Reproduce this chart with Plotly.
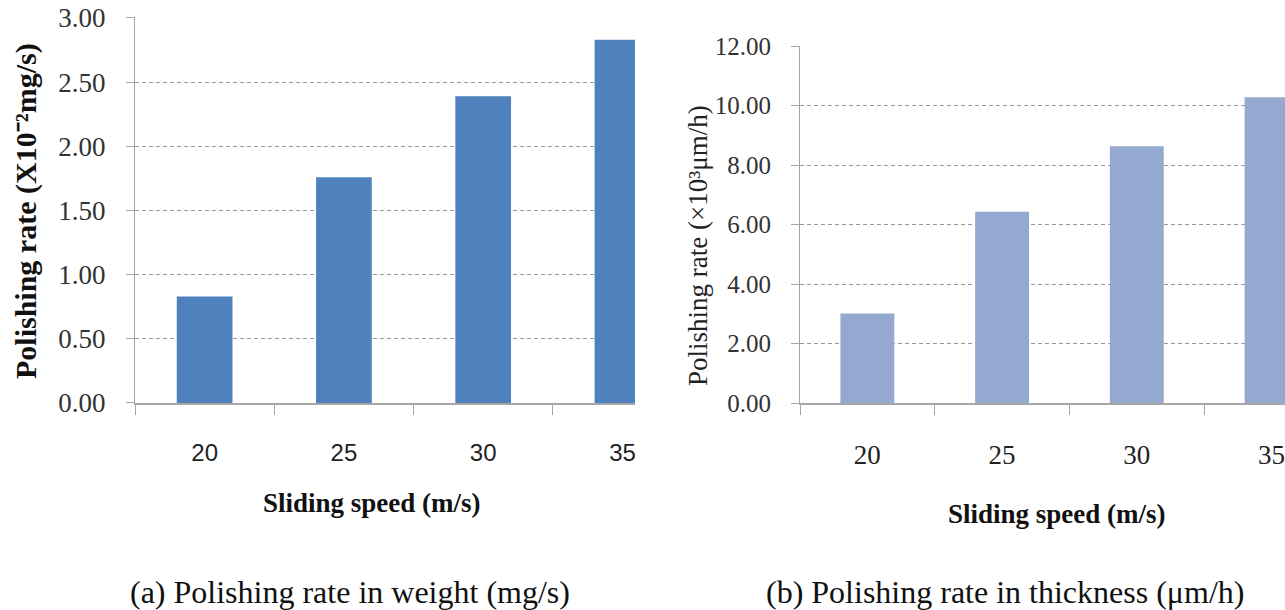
import plotly.graph_objects as go

speeds = ["20", "25", "30", "35"]
rate_weight = [0.83, 1.76, 2.39, 2.83]
rate_thickness = [3.01, 6.43, 8.63, 10.28]

W, H = 1285, 610
def px(x): return x / W
def py(y): return 1 - y / H

SERIF = "Liberation Serif"
SANS = "Liberation Sans"
GRID = "#9a9a9a"
AXIS = "#a6a6a6"

fig = go.Figure()
fig.add_trace(go.Bar(x=speeds, y=rate_weight, marker=dict(color="#4F81BD", line=dict(width=0)),
                     width=0.4, xaxis="x", yaxis="y", showlegend=False))
fig.add_trace(go.Bar(x=speeds, y=rate_thickness, marker=dict(color="#95A9D0", line=dict(width=0)),
                     width=0.4, xaxis="x2", yaxis="y2", showlegend=False))

common_x = dict(type="category", showline=True, linecolor=AXIS, linewidth=1.5,
                ticks="outside", ticklen=10, tickcolor=AXIS, tickwidth=1,
                tickson="boundaries", showgrid=False, zeroline=False,
                ticklabelstandoff=27, fixedrange=True, automargin=False)
common_y = dict(showline=True, linecolor=AXIS, linewidth=1, ticks="outside", ticklen=8,
                tickcolor=AXIS, showgrid=True, gridcolor=GRID, griddash="4px,3px", gridwidth=1,
                zeroline=False, tickformat=".2f", ticklabelstandoff=15, fixedrange=True,
                automargin=False)

# slight headroom so the top gridline is drawn
top1, top2 = 3.004, 12.016
y1_top_px = 403 - (403 - 18) * top1 / 3
y2_top_px = 403 - (403 - 46) * top2 / 12

fig.update_layout(
    width=W, height=H, margin=dict(l=0, r=0, t=0, b=0),
    paper_bgcolor="white", plot_bgcolor="white", bargap=0.6,
    xaxis=dict(common_x, domain=[px(135), px(635)], range=[-0.5, 3.09], anchor="y",
               tickfont=dict(family=SANS, size=24, color="#222")),
    yaxis=dict(common_y, domain=[py(403), py(y1_top_px)], range=[0, top1], dtick=0.5,
               anchor="x", tickfont=dict(family=SERIF, size=27, color="#333")),
    xaxis2=dict(common_x, domain=[px(800), px(1285)], range=[-0.5, 3.1], anchor="y2",
                tickfont=dict(family=SERIF, size=27, color="#222")),
    yaxis2=dict(common_y, domain=[py(403), py(y2_top_px)], range=[0, top2], dtick=2,
                anchor="x2", tickfont=dict(family=SERIF, size=25, color="#333")),
)

ann = [
    dict(text="<b>Polishing rate (X10⁻²mg/s)</b>", x=px(26), y=py(211), textangle=-90,
         font=dict(family=SERIF, size=30, color="#111")),
    dict(text="<b>Sliding speed (m/s)</b>", x=px(372), y=py(503),
         font=dict(family=SERIF, size=27, color="#111")),
    dict(text="Polishing rate (×10³μm/h)", x=px(698), y=py(246), textangle=-90,
         font=dict(family=SERIF, size=27, color="#222")),
    dict(text="<b>Sliding speed (m/s)</b>", x=px(1057), y=py(514),
         font=dict(family=SERIF, size=27, color="#111")),
    dict(text="(a) Polishing rate in weight (mg/s)", x=px(350), y=py(592),
         font=dict(family=SERIF, size=32, color="#111")),
    dict(text="(b) Polishing rate in thickness (μm/h)", x=px(1005), y=py(592),
         font=dict(family=SERIF, size=32, color="#111")),
]
for a in ann:
    a.update(xref="paper", yref="paper", showarrow=False, xanchor="center", yanchor="middle")
fig.update_layout(annotations=ann)

fig.write_html("out.html", config={"displayModeBar": False},
               post_script="document.body.style.margin='0';document.body.style.overflow='hidden';")
